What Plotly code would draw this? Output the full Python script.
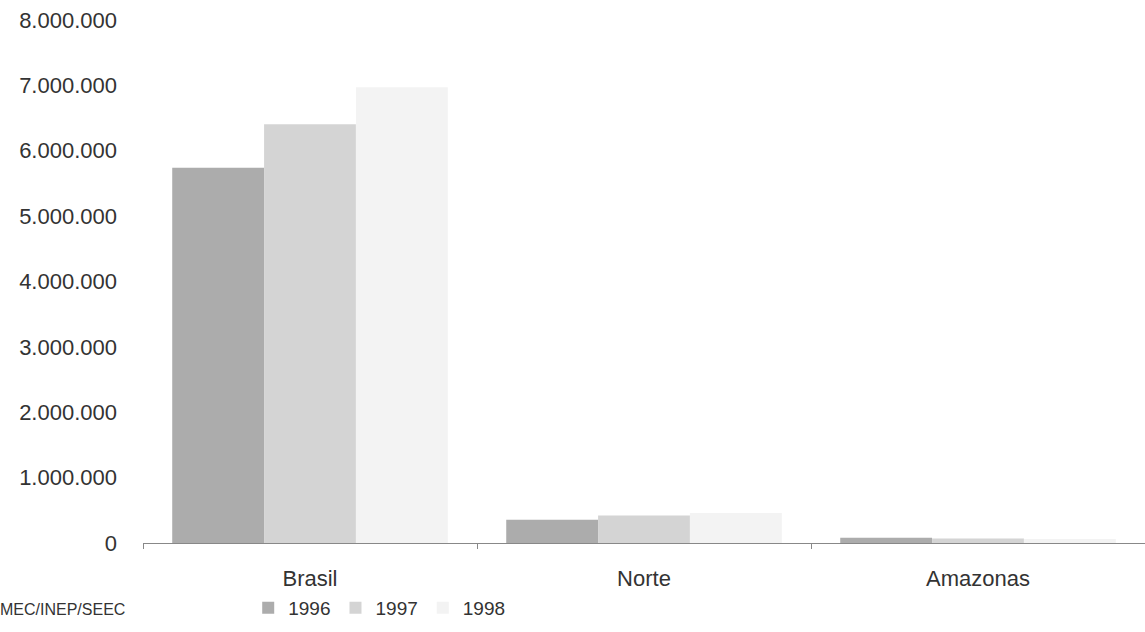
import plotly.graph_objects as go

# Matrículas por região
regions = ["Brasil", "Norte", "Amazonas"]
years = ["1996", "1997", "1998"]
values_1996 = [5740000, 356000, 82000]
values_1997 = [6405000, 420000, 70000]
values_1998 = [6970000, 460000, 60000]
y_ticks = [0, 1000000, 2000000, 3000000, 4000000, 5000000, 6000000, 7000000, 8000000]
y_tick_labels = ["0", "1.000.000", "2.000.000", "3.000.000", "4.000.000",
                 "5.000.000", "6.000.000", "7.000.000", "8.000.000"]

colors = ["#acacac", "#d4d4d4", "#f3f3f3"]
series = [values_1996, values_1997, values_1998]

fig = go.Figure()
for year, vals, color in zip(years, series, colors):
    fig.add_trace(go.Bar(x=regions, y=vals, name=year, marker=dict(color=color, line_width=0)))

fig.update_layout(
    width=1145,
    height=632,
    margin=dict(l=143, r=0, t=20, b=89),
    paper_bgcolor="white",
    plot_bgcolor="white",
    barmode="group",
    bargap=0.175,
    bargroupgap=0,
    font=dict(family="Liberation Sans, Arial, sans-serif", size=16, color="#333333"),
    showlegend=True,
    legend=dict(
        orientation="h",
        x=0.105,
        y=-0.124,
        xanchor="left",
        yanchor="middle",
        font=dict(size=19, color="#333333"),
        itemwidth=30,
        bgcolor="rgba(0,0,0,0)",
    ),
)

fig.update_xaxes(
    showline=True,
    linecolor="#888888",
    linewidth=1,
    ticks="outside",
    tickson="boundaries",
    ticklen=5,
    tickcolor="#888888",
    showgrid=False,
    tickfont=dict(size=22),
    ticklabelstandoff=16,
)
fig.update_yaxes(
    range=[0, 8000000],
    tickvals=y_ticks,
    ticktext=y_tick_labels,
    showgrid=False,
    showline=False,
    zeroline=False,
    ticks="",
    tickfont=dict(size=22),
    ticklabelstandoff=25,
)

fig.add_annotation(
    text="MEC/INEP/SEEC",
    xref="paper", yref="paper",
    x=-145 / 1002, y=-0.128,
    xanchor="left", yanchor="middle",
    showarrow=False,
    font=dict(size=16, color="#333333"),
)

fig.write_html(
    "out.html",
    config={"displayModeBar": False},
    post_script="document.body.style.margin='0';",
)
